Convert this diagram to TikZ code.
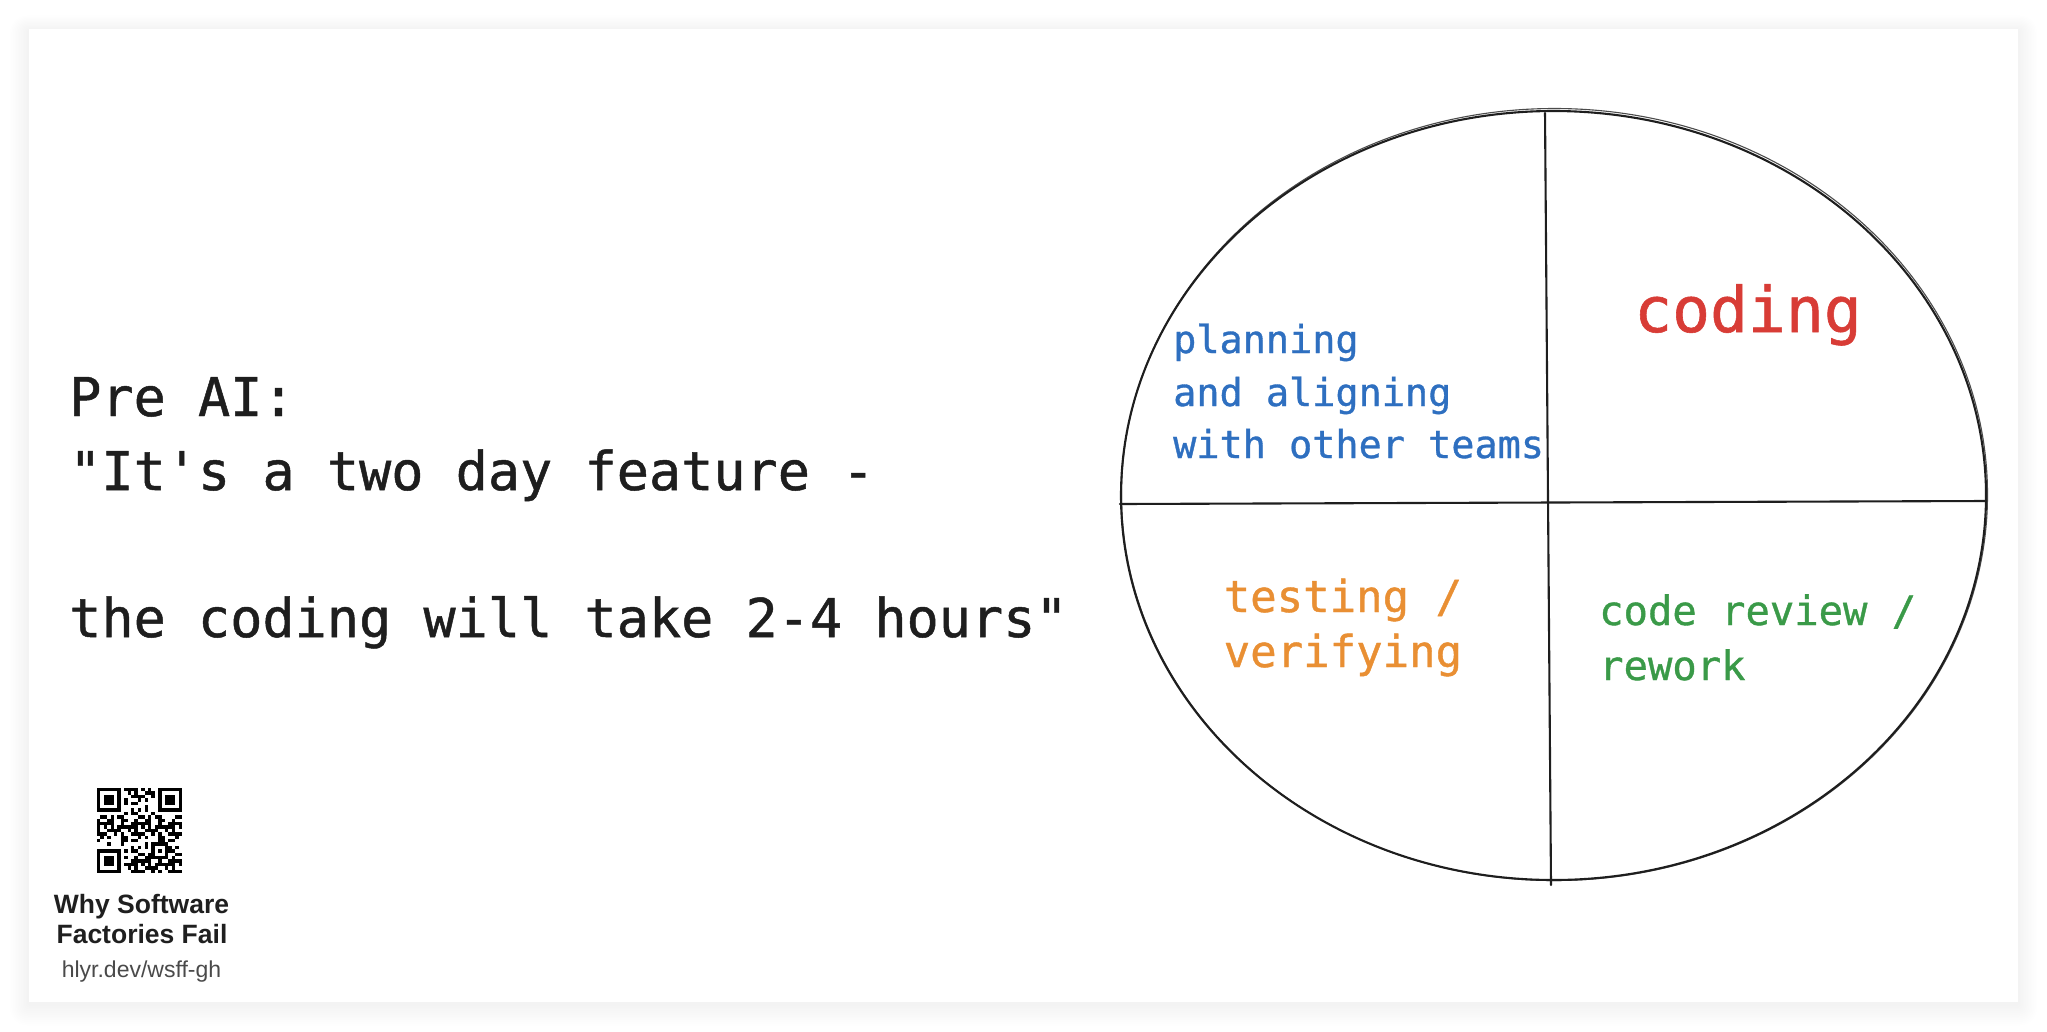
\documentclass[tikz,border=0pt]{standalone}
\usepackage{fontspec}
\newfontfamily\mono[Ligatures=TeXOff,FakeBold=0.9]{DejaVu Sans Mono}
\newfontfamily\arialf{Liberation Sans}
\definecolor{ink}{HTML}{1E1E1E}
\definecolor{exblue}{HTML}{2E6FC0}
\definecolor{exred}{HTML}{D83C36}
\definecolor{exorange}{HTML}{E98F33}
\definecolor{exgreen}{HTML}{3A9A48}
\definecolor{capgray}{HTML}{4A4A4A}
\begin{document}
\begin{tikzpicture}[x=1pt,y=-1pt,
  sketch/.style={draw=ink, line width=2.1pt, line cap=round},
  txt/.style={inner sep=0pt, anchor=base west},
  big/.style={txt, font=\mono\fontsize{53.5}{64}\selectfont, text=ink},
  bluet/.style={txt, font=\mono\fontsize{38.5}{46}\selectfont, text=exblue},
  redt/.style={txt, font=\mono\fontsize{63}{72}\selectfont, text=exred},
  oranget/.style={txt, font=\mono\fontsize{44}{52}\selectfont, text=exorange},
  greent/.style={txt, font=\mono\fontsize{40.5}{48}\selectfont, text=exgreen},
  capt/.style={inner sep=0pt, anchor=base, font=\arialf\bfseries\fontsize{26.5}{30}\selectfont, text=black!88},
  linkt/.style={inner sep=0pt, anchor=base, font=\arialf\fontsize{23}{27}\selectfont, text=capgray},
  qrc/.style={fill=black}]
\useasboundingbox (0,0) rectangle (2047,1031);
\fill[white] (0,0) rectangle (2047,1031);
% soft shadow of the card
\foreach \k in {1,...,12}{
  \fill[black, opacity=0.0045, rounded corners=\k*1.5pt]
    (29-\k*1.6, 29-\k*1.3+2) rectangle (2018+\k*1.6, 1002+\k*1.8+2);
}
\fill[white] (29,29) rectangle (2018,1002);

% left text
\node[big] (l1) at (69,416) {Pre AI:};
\node[big] (l2) at (69,490) {"It's a two day feature -};
\node[big] (l3) at (69,637) {the coding will take 2-4 hours"};

% pie
\draw[sketch] (1553.5,495.5) ellipse [x radius=432.5pt, y radius=384.5pt];
\draw[draw=ink, line width=1.1pt, opacity=0.8] (1554.5,494.5) ellipse [x radius=433pt, y radius=386pt];
\coordinate (vt) at (1545,113);
\coordinate (vb) at (1551,885);
\coordinate (hl) at (1120,504);
\coordinate (hr) at (1986,501);
\draw[sketch] (vt) -- (vb);
\draw[sketch] (hl) -- (hr);

% quadrant labels
\node[bluet] (p1) at (1173,353) {planning};
\node[bluet] (p2) at (1173,406) {and aligning};
\node[bluet] (p3) at (1173,458) {with other teams};
\node[redt] (c1) at (1634,332) {coding};
\node[oranget] (t1) at (1223.5,612) {testing /};
\node[oranget] (t2) at (1223.5,667) {verifying};
\node[greent] (g1) at (1599,625) {code review /};
\node[greent] (g2) at (1599,680) {rework};

% QR code (pseudo pattern)
\foreach \i in {0,...,24}{
  \foreach \j in {0,...,24}{
    \pgfmathtruncatemacro\qin{((\i<8)&&(\j<8))||((\i>16)&&(\j<8))||((\i<8)&&(\j>16))||((\i>15)&&(\i<21)&&(\j>15)&&(\j<21))}
    \pgfmathtruncatemacro\qv{mod(\i*\i*5+\j*\j*3+\i*\j*7+\i*3+\j*11,11)}
    \ifnum\qin=0 \ifnum\qv<5 \fill[qrc] (97+\i*3.4,788+\j*3.4) rectangle ++(3.45,3.45);\fi\fi
  }
}
\foreach \fx/\fy in {0/0,18/0,0/18}{
  \fill[qrc] (97+\fx*3.4,788+\fy*3.4) rectangle ++(23.8,23.8);
  \fill[white] (97+\fx*3.4+3.4,788+\fy*3.4+3.4) rectangle ++(17,17);
  \fill[qrc] (97+\fx*3.4+6.8,788+\fy*3.4+6.8) rectangle ++(10.2,10.2);
}
\fill[qrc] (97+16*3.4,788+16*3.4) rectangle ++(17,17);
\fill[white] (97+17*3.4,788+17*3.4) rectangle ++(10.2,10.2);
\fill[qrc] (97+18*3.4,788+18*3.4) rectangle ++(3.4,3.4);

\node[capt] (q1) at (141.5,913) {Why Software};
\node[capt] (q2) at (142,943) {Factories Fail};
\node[linkt] (q3) at (141.5,977) {hlyr.dev/wsff-gh};
\end{tikzpicture}
\end{document}
